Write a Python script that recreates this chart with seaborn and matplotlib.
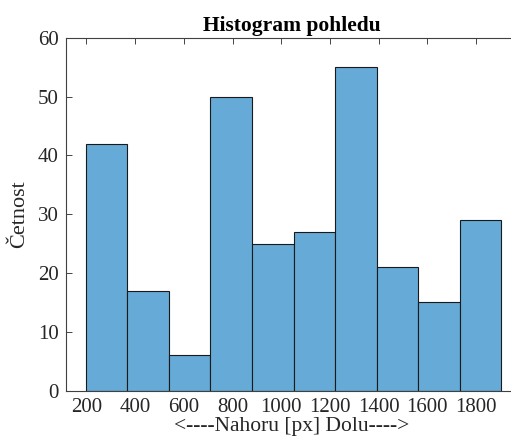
import numpy as np
import matplotlib
matplotlib.use("Agg")
import matplotlib.pyplot as plt
import seaborn as sns

# Data
bin_edges = [197.5, 368.1, 538.7, 709.3, 879.9, 1050.5, 1221.1, 1391.7, 1562.3, 1732.9, 1903.5]
counts = [42, 17, 6, 50, 25, 27, 55, 21, 15, 29]
x_ticks = [200, 400, 600, 800, 1000, 1200, 1400, 1600, 1800]
y_ticks = [0, 10, 20, 30, 40, 50, 60]
title = "Histogram pohledu"
xlabel = "<----Nahoru [px] Dolu---->"
ylabel = "Četnost"

sns.set_style("white")
plt.rcParams['font.family'] = ['Liberation Serif', 'DejaVu Serif']

centers = [(a + b) / 2 for a, b in zip(bin_edges[:-1], bin_edges[1:])]

fig = plt.figure(figsize=(5.11, 4.44), dpi=100)
ax = fig.add_axes([65.7 / 511, (444 - 390.7) / 444, (518 - 65.7) / 511, (390.7 - 37.7) / 444])

sns.histplot(x=centers, weights=counts, bins=bin_edges, ax=ax,
             color="#66AAD7", alpha=1.0, edgecolor="#1a1a1a", linewidth=0.8)

ax.set_xlim(115, 1972)
ax.set_ylim(0, 60)
ax.set_xticks(x_ticks)
ax.set_yticks(y_ticks)
ax.tick_params(direction='in', length=4, width=0.6, colors='#262626',
               labelsize=15, top=True, bottom=True, left=True, right=True, pad=5)
for s in ax.spines.values():
    s.set_color('#404040')
    s.set_linewidth(0.8)

ax.set_title(title, fontsize=15.5, fontweight='bold', color='black', pad=5)
ax.set_xlabel(xlabel, fontsize=15.5, color='#262626', labelpad=0)
ax.set_ylabel(ylabel, fontsize=16, color='#262626', labelpad=6)

fig.savefig("out.png", dpi=100)
